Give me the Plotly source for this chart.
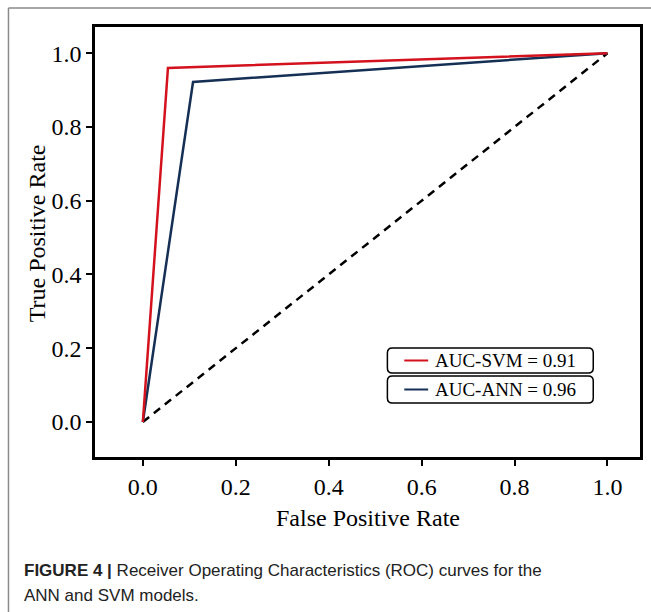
import plotly.graph_objects as go

# Data
svm_fpr = [0.0, 0.054, 1.0]
svm_tpr = [0.0, 0.96, 1.0]
ann_fpr = [0.0, 0.108, 1.0]
ann_tpr = [0.0, 0.922, 1.0]
diag_x = [0.0, 1.0]
diag_y = [0.0, 1.0]
legend_labels = ["AUC-SVM = 0.91", "AUC-ANN = 0.96"]
tick_vals = [0.0, 0.2, 0.4, 0.6, 0.8, 1.0]

RED = "#d3121e"
BLUE = "#152f55"
W, H = 651, 612
L, R, T, B = 95, 8, 27, 155
PW, PH = W - L - R, H - T - B
SERIF = "Liberation Serif, Times New Roman, serif"


def px(x):
    return (x - L) / PW


def py(y):
    return (H - B - y) / PH


fig = go.Figure()
fig.add_trace(go.Scatter(x=diag_x, y=diag_y, mode="lines",
                         line=dict(color="black", width=2.5, dash="8px,6px"),
                         showlegend=False))
fig.add_trace(go.Scatter(x=ann_fpr, y=ann_tpr, mode="lines",
                         line=dict(color=BLUE, width=2.5), name=legend_labels[1],
                         showlegend=False))
fig.add_trace(go.Scatter(x=svm_fpr, y=svm_tpr, mode="lines",
                         line=dict(color=RED, width=2.5), name=legend_labels[0],
                         showlegend=False))

axis_common = dict(
    showgrid=False, zeroline=False, showline=True, linecolor="black", linewidth=2.5,
    mirror=True, ticks="outside", ticklen=6, tickwidth=2, tickcolor="black",
    tickvals=tick_vals, tickformat=".1f",
    tickfont=dict(family=SERIF, size=24, color="black"),
)
fig.update_xaxes(range=[-0.103, 1.07], **axis_common)
fig.update_yaxes(range=[-0.095, 1.071], **axis_common)

shapes = []
# outer frame (top and left border)
shapes.append(dict(type="line", xref="paper", yref="paper",
                   x0=px(8), y0=py(8), x1=px(W + 5), y1=py(8),
                   line=dict(color="#8a8a8a", width=1.5)))
shapes.append(dict(type="line", xref="paper", yref="paper",
                   x0=px(8), y0=py(8), x1=px(8), y1=py(H + 5),
                   line=dict(color="#8a8a8a", width=1.5)))


def rounded_box(x0, y0, x1, y1, r=5):
    rx, ry = r / PW, r / PH
    X0, X1 = px(x0), px(x1)
    Yt, Yb = py(y0), py(y1)
    path = (f"M {X0 + rx},{Yt} L {X1 - rx},{Yt} Q {X1},{Yt} {X1},{Yt - ry} "
            f"L {X1},{Yb + ry} Q {X1},{Yb} {X1 - rx},{Yb} "
            f"L {X0 + rx},{Yb} Q {X0},{Yb} {X0},{Yb + ry} "
            f"L {X0},{Yt - ry} Q {X0},{Yt} {X0 + rx},{Yt} Z")
    return dict(type="path", xref="paper", yref="paper", path=path,
                line=dict(color="black", width=1.5), fillcolor="white", layer="above")


boxes = [(389, 348, 596, 373), (389, 376, 596, 403)]
colors = [RED, BLUE]
annotations = []
for (bx0, by0, bx1, by1), col, lab in zip(boxes, colors, legend_labels):
    shapes.append(rounded_box(bx0, by0, bx1, by1))
    yc = (by0 + by1) / 2
    shapes.append(dict(type="line", xref="paper", yref="paper",
                       x0=px(406), x1=px(430), y0=py(yc), y1=py(yc),
                       line=dict(color=col, width=2), layer="above"))
    annotations.append(dict(xref="paper", yref="paper", x=px(435), y=py(yc),
                            xanchor="left", yanchor="middle", showarrow=False, text=lab,
                            font=dict(family=SERIF, size=19, color="black")))

# axis titles
annotations.append(dict(xref="paper", yref="paper", x=px(370), y=py(518),
                        xanchor="center", yanchor="middle", showarrow=False,
                        text="False Positive Rate",
                        font=dict(family=SERIF, size=24, color="black")))
annotations.append(dict(xref="paper", yref="paper", x=px(37), y=py(233),
                        xanchor="center", yanchor="middle", showarrow=False, textangle=-90,
                        text="True Positive Rate",
                        font=dict(family=SERIF, size=24, color="black")))
# caption
cap_font = dict(family="Liberation Sans, Arial, sans-serif", size=17, color="#222222")
annotations.append(dict(xref="paper", yref="paper", x=px(22), y=py(570),
                        xanchor="left", yanchor="middle", showarrow=False,
                        text="<b>FIGURE 4 |</b> Receiver Operating Characteristics (ROC) curves for the",
                        font=cap_font))
annotations.append(dict(xref="paper", yref="paper", x=px(22), y=py(595),
                        xanchor="left", yanchor="middle", showarrow=False,
                        text="ANN and SVM models.", font=cap_font))

fig.update_layout(
    width=W, height=H, margin=dict(l=L, r=R, t=T, b=B),
    paper_bgcolor="white", plot_bgcolor="white",
    shapes=shapes, annotations=annotations, showlegend=False,
)
fig.write_html("out.html", config={"displayModeBar": False},
               post_script="document.body.style.margin='0px';document.body.style.overflow='hidden';")
